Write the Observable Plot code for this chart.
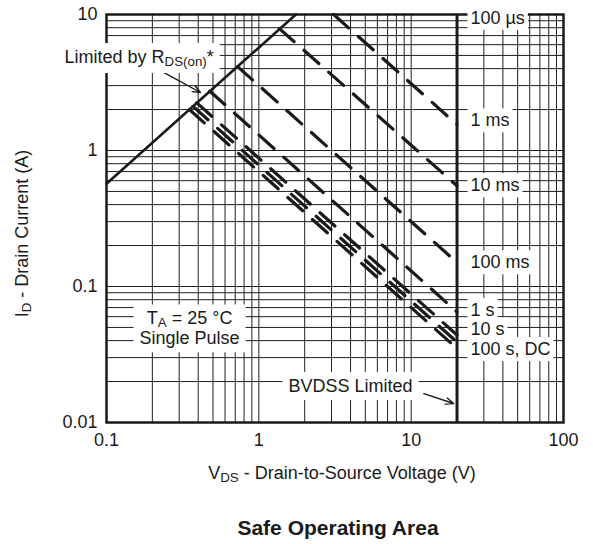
<!DOCTYPE html>
<html>
<head>
<meta charset="utf-8">
<script src="https://cdn.jsdelivr.net/npm/d3@7"></script>
<script src="https://cdn.jsdelivr.net/npm/@observablehq/plot@0.6"></script>
<style>
  html, body { margin: 0; padding: 0; background: #fff; }
  body { width: 593px; height: 544px; overflow: hidden; font-family: "Liberation Sans", Arial, sans-serif; color: #1a1a1a; }
  svg { display: block; }
  #title { margin-top: 16px; margin-left: 106px; width: 464px; text-align: center; font-weight: bold; font-size: 21px; line-height: 24px; }
</style>
</head>
<body>
<div id="chart"></div>
<div id="title">Safe Operating Area</div>
<script>
// ---- axis ticks ----
const xTicks = [0.1, 1, 10, 100];
const xTickLabels = ["0.1", "1", "10", "100"];
const yTicks = [0.01, 0.1, 1, 10];
const yTickLabels = ["0.01", "0.1", "1", "10"];

// ---- limit lines ----
const rdsV = [0.1, 1.75];
const rdsI = [0.57, 10];
const bvdssV = [20];

// ---- pulse-duration lines (start at RDS(on) limit / 10 A, end at BVDSS) ----
const pulseSeries = ["1 ms", "10 ms", "100 ms", "1 s", "10 s", "100 s", "DC"];
const pulseStartV = [3.1, 1.36, 0.725, 0.477, 0.392, 0.37, 0.35];
const pulseStartI = [10, 7.9, 4.14, 2.73, 2.24, 2.11, 2.0];
const pulseEndV = [20, 20, 20, 20, 20, 20, 20];
const pulseEndI = [1.55, 0.55, 0.15, 0.065, 0.044, 0.039, 0.035];

// ---- right-hand duration labels ----
const durLabels = ["100 µs", "1 ms", "10 ms", "100 ms", "1 s", "10 s", "100 s, DC"];
const durLabelI = [9.4, 1.66, 0.553, 0.15, 0.067, 0.0482, 0.0345];
const durLabelV = 24.5;

// ---- annotations ----
const noteTexts = ["Limited by R_{DS(on)}*", "T_{A} = 25 °C\nSingle Pulse", "BVDSS Limited"];
const noteV = [0.053, 0.351, 4.0];
const noteI = [4.85, 0.0495, 0.0187];
const noteAnchor = ["start", "middle", "middle"];
const arrowFromV = [0.237, 12.1];
const arrowFromI = [3.75, 0.0163];
const arrowToV = [0.414, 19.0];
const arrowToI = [2.67, 0.0138];

const xTitle = "V_{DS} - Drain-to-Source Voltage (V)";
const yTitle = "I_{D} - Drain Current (A)";

// ---- tables for the library ----
const rdsData = rdsV.map((v, k) => ({v, i: rdsI[k]}));
const pulseData = pulseSeries.flatMap((s, k) => [
  {s, v: pulseStartV[k], i: pulseStartI[k]},
  {s, v: pulseEndV[k], i: pulseEndI[k]}
]);
const durData = durLabels.map((t, k) => ({t, v: durLabelV, i: durLabelI[k]}));
const noteData = noteTexts.map((t, k) => ({t, v: noteV[k], i: noteI[k], a: noteAnchor[k]}));
const arrowData = arrowFromV.map((v, k) => ({x1: v, y1: arrowFromI[k], x2: arrowToV[k], y2: arrowToI[k]}));

const ink = "#1a1a1a";
const gridInk = "#1f1f1f";

const chart = Plot.plot({
  width: 593,
  height: 500,
  marginLeft: 106,
  marginRight: 30,
  marginTop: 14,
  marginBottom: 78,
  x: {type: "log", domain: [0.1, 100]},
  y: {type: "log", domain: [0.01, 10]},
  style: {fontFamily: "'Liberation Sans', Arial, sans-serif", fontSize: "18px", color: ink, background: "white", overflow: "visible"},
  marks: [
    Plot.gridX({ticks: 30, stroke: gridInk, strokeOpacity: 1, strokeWidth: 1}),
    Plot.gridY({ticks: 30, stroke: gridInk, strokeOpacity: 1, strokeWidth: 1}),
    Plot.frame({stroke: ink, strokeWidth: 2.5}),
    Plot.ruleX(bvdssV, {y1: 0.01, y2: 10, stroke: ink, strokeWidth: 3}),
    Plot.line(rdsData, {x: "v", y: "i", stroke: ink, strokeWidth: 2.6}),
    Plot.line(pulseData, {x: "v", y: "i", z: "s", stroke: ink, strokeWidth: 3.2, strokeDasharray: "20,13"}),
    Plot.arrow(arrowData, {x1: "x1", y1: "y1", x2: "x2", y2: "y2", stroke: ink, strokeWidth: 1.4, headLength: 9, headAngle: 45}),
    Plot.text(durData, {x: "v", y: "i", text: "t", textAnchor: "start", fill: ink}),
    Plot.text(noteData.filter(d => d.a === "start"), {x: "v", y: "i", text: "t", textAnchor: "start", fill: ink}),
    Plot.text(noteData.filter(d => d.a === "middle"), {x: "v", y: "i", text: "t", textAnchor: "middle", lineHeight: 1.1, fill: ink}),
    Plot.axisX({ticks: xTicks, tickFormat: d => xTickLabels[xTicks.indexOf(d)], tickSize: 0, tickPadding: 11, label: null}),
    Plot.axisY({ticks: yTicks, tickFormat: d => yTickLabels[yTicks.indexOf(d)], tickSize: 0, tickPadding: 9, label: null}),
    Plot.text([xTitle], {frameAnchor: "bottom", lineAnchor: "middle", textAnchor: "middle", dy: 51, dx: 7, fill: ink}),
    Plot.text([yTitle], {frameAnchor: "left", lineAnchor: "middle", textAnchor: "middle", dx: -84, dy: 15, rotate: -90, fill: ink})
  ]
});

document.getElementById("chart").append(chart);

const NS = "http://www.w3.org/2000/svg";
const plain = s => s.replace(/_\{([^}]*)\}/g, "$1").replace(/\n/g, "");

// subscripts written as _{...}
const subShift = 3;
Array.from(chart.querySelectorAll("text, tspan"))
  .filter(n => n.children.length === 0 && n.textContent.includes("_{"))
  .forEach(n => {
    const parts = n.textContent.split(/_\{([^}]*)\}/);
    n.textContent = "";
    let shifted = false;
    parts.forEach((p, k) => {
      if (!p) return;
      const t = document.createElementNS(NS, "tspan");
      t.textContent = p;
      if (k % 2 === 1) { t.setAttribute("font-size", "0.74em"); t.setAttribute("dy", subShift); shifted = true; }
      else if (shifted) { t.setAttribute("dy", -subShift); shifted = false; }
      n.appendChild(t);
    });
  });

// white boxes behind labels
const narrowSet = new Set(durLabels.map(plain));
const wideSet = new Set(noteTexts.map(plain));
const groups = new Map();
Array.from(chart.querySelectorAll("text")).forEach(t => {
  const c = t.textContent;
  let pad = null;
  if (narrowSet.has(c)) pad = [3, 2];
  else if (wideSet.has(c)) pad = [6, 4];
  if (!pad) return;
  const g = t.parentNode;
  if (!groups.has(g)) groups.set(g, []);
  groups.get(g).push([t, pad]);
});
groups.forEach((items, g) => {
  const first = items[0][0];
  items.forEach(([t, [px, py]]) => {
    const b = t.getBBox();
    const r = document.createElementNS(NS, "rect");
    r.setAttribute("x", b.x - px);
    r.setAttribute("y", b.y - py);
    r.setAttribute("width", b.width + 2 * px);
    r.setAttribute("height", b.height + 2 * py);
    r.setAttribute("fill", "white");
    r.setAttribute("stroke", "none");
    const tr = t.getAttribute("transform");
    if (tr) r.setAttribute("transform", tr);
    g.insertBefore(r, first);
  });
});
</script>
</body>
</html>
